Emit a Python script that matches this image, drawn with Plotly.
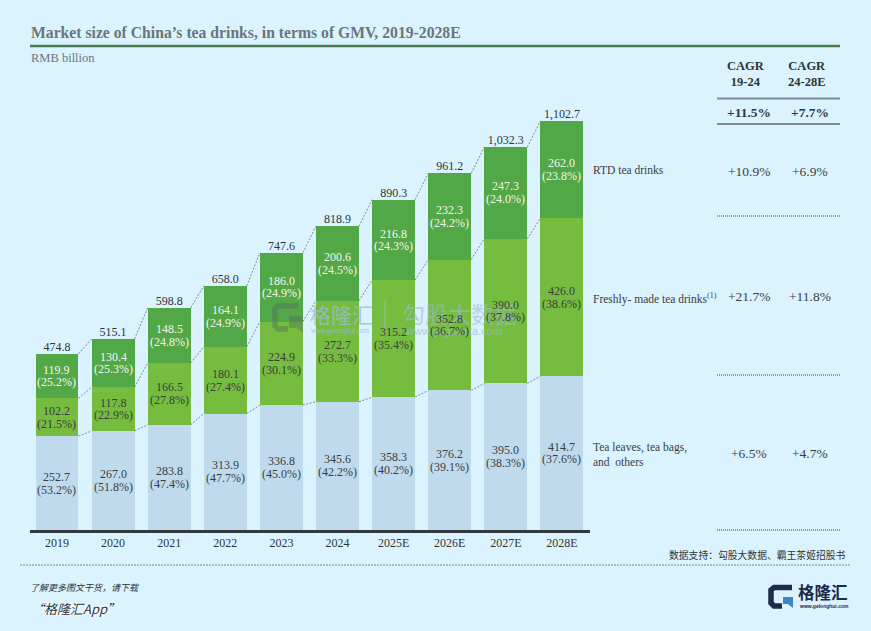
import plotly.graph_objects as go

years = ['2019', '2020', '2021', '2022', '2023', '2024', '2025E', '2026E', '2027E', '2028E']
leaves = [252.7, 267.0, 283.8, 313.9, 336.8, 345.6, 358.3, 376.2, 395.0, 414.7]
leaves_pct = [53.2, 51.8, 47.4, 47.7, 45.0, 42.2, 40.2, 39.1, 38.3, 37.6]
fresh = [102.2, 117.8, 166.5, 180.1, 224.9, 272.7, 315.2, 352.8, 390.0, 426.0]
fresh_pct = [21.5, 22.9, 27.8, 27.4, 30.1, 33.3, 35.4, 36.7, 37.8, 38.6]
rtd = [119.9, 130.4, 148.5, 164.1, 186.0, 200.6, 216.8, 232.3, 247.3, 262.0]
rtd_pct = [25.2, 25.3, 24.8, 24.9, 24.9, 24.5, 24.3, 24.2, 24.0, 23.8]
totals = [474.8, 515.1, 598.8, 658.0, 747.6, 818.9, 890.3, 961.2, 1032.3, 1102.7]

cagr_total = ['+11.5%', '+7.7%']
cagr_rtd = ['+10.9%', '+6.9%']
cagr_fresh = ['+21.7%', '+11.8%']
cagr_leaves = ['+6.5%', '+4.7%']

W, H = 871, 631
BG = '#DBF3FF'
SERIF = 'Liberation Serif'
CJK = 'Noto Sans CJK SC'
DARK = '#3A3D40'
GRAY = '#6C757B'


def px(x):
    return x / W


def py(y):
    return 1 - y / H


xs = list(range(len(years)))
half = 0.383
level2 = [a + b for a, b in zip(leaves, fresh)]
level3 = [a + b for a, b in zip(level2, rtd)]

fig = go.Figure()
fig.add_trace(go.Bar(x=xs, y=leaves, marker_color='#C0DAED', marker_line_width=0))
fig.add_trace(go.Bar(x=xs, y=fresh, marker_color='#76BC3E', marker_line_width=0))
fig.add_trace(go.Bar(x=xs, y=rtd, marker_color='#52A747', marker_line_width=0))

# dashed connectors between the bars
for level in [leaves, level2, level3]:
    cx, cy = [], []
    for i in xs[:-1]:
        cx += [i + half, i + 1 - half, None]
        cy += [level[i], level[i + 1], None]
    fig.add_trace(go.Scatter(x=cx, y=cy, mode='lines', hoverinfo='skip',
                             line=dict(color='#7C8A8C', width=1, dash='2px,1.5px')))

fig.add_trace(go.Scatter(x=xs, y=level3, mode='text', text=[f'{t:,.1f}' for t in totals],
                         textposition='top center', cliponaxis=False,
                         textfont=dict(family=SERIF, size=12, color='#2F3336')))

# margins at zero so that paper coordinates are the whole picture
fig.update_layout(
    width=W, height=H, autosize=False, barmode='stack', bargap=0.234, showlegend=False,
    paper_bgcolor=BG, plot_bgcolor=BG,
    margin=dict(l=0, r=0, t=0, b=0),
    xaxis=dict(domain=[px(30), px(590)], range=[-0.481, 9.5], tickvals=xs, ticktext=years,
               showgrid=False, zeroline=False,
               showline=True, linecolor='#33383B', linewidth=2.5, ticks='',
               tickfont=dict(family=SERIF, size=12, color='#2F3336')),
    yaxis=dict(domain=[py(530), py(100)], range=[0, 1159], visible=False, showgrid=False, zeroline=False),
)


def note(x, y, text, size=12, color=DARK, anchor='left', family=SERIF, **kw):
    fig.add_annotation(x=px(x), y=py(y), xref='paper', yref='paper', text=text, showarrow=False,
                       xanchor=anchor, yanchor='middle', align=anchor, borderpad=0,
                       font=dict(family=family, size=size, color=color, **kw.pop('font', {})), **kw)


def hline(x0, x1, y, color, width, dash='solid'):
    fig.add_shape(type='line', xref='paper', yref='paper', x0=px(x0), x1=px(x1), y0=py(y), y1=py(y),
                  line=dict(color=color, width=width, dash=dash))


def path(points, **kw):
    d = 'M ' + ' L '.join(f'{px(a):.5f},{py(b):.5f}' for a, b in points)
    fig.add_shape(type='path', xref='paper', yref='paper', path=d, **kw)


# watermark
MARK = '#56735F'
path([(298, 306), (278, 306), (275, 309), (275, 326), (278, 329), (288, 329)],
     line=dict(color=MARK, width=5.5), opacity=0.45)
path([(289, 316), (303, 316), (303, 333), (297, 328), (289, 328)],
     fillcolor=MARK, line=dict(width=0), opacity=0.45)
note(309, 314, '格隆汇', size=21, color='#9DBBD6', family=CJK, opacity=0.8)
note(309, 331, 'www.gelonghui.com', size=6.5, color='#9DBBD6', family='Liberation Sans', opacity=0.8)
fig.add_shape(type='line', xref='paper', yref='paper', x0=px(385), x1=px(385), y0=py(299), y1=py(335),
              line=dict(color='#A9C0D0', width=1), opacity=0.7)
note(401, 313, '勾股大数据', size=23, color='#9DBBD6', family=CJK, opacity=0.6)
note(404, 331, 'www.gogudata.com', size=11, color='#9DBBD6', family='Liberation Sans', opacity=0.7)


# two-line labels inside the bars, tighter than a <br> would set them
def bar_labels(bottoms, vals, pcts, color):
    for i, b, v, p in zip(xs, bottoms, vals, pcts):
        for line, shift in [(f'{v:.1f}', 6.4), (f'({p:.1f}%)', -6.4)]:
            fig.add_annotation(x=i, y=b + v / 2, xref='x', yref='y', text=line, showarrow=False,
                               yshift=shift, borderpad=0,
                               font=dict(family=SERIF, size=12, color=color))


bar_labels([0] * len(xs), leaves, leaves_pct, DARK)
bar_labels(leaves, fresh, fresh_pct, DARK)
bar_labels(level2, rtd, rtd_pct, '#F2F7EE')

# header
note(30, 32, '<b>Market size of China’s tea drinks, in terms of GMV, 2019-2028E</b>', size=15.7, color=GRAY)
hline(30, 840, 46, '#4A7A52', 2.5)
note(30, 58, 'RMB billion', size=12.5, color=GRAY)

# CAGR table
COL1, COL2 = 746, 807
note(COL1, 74, '<b>CAGR<br>19-24</b>', size=12.5, color='#2F3336', anchor='center')
note(COL2, 74, '<b>CAGR<br>24-28E</b>', size=12.5, color='#2F3336', anchor='center')
hline(717, 840, 98.5, '#7F8C92', 2)
hline(717, 840, 124, '#7F8C92', 2)
note(COL1 + 3, 112, f'<b>{cagr_total[0]}</b>', size=13.5, color='#33383B', anchor='center')
note(COL2 + 3, 112, f'<b>{cagr_total[1]}</b>', size=13.5, color='#33383B', anchor='center')

for row_y, row in [(171, cagr_rtd), (296, cagr_fresh), (453, cagr_leaves)]:
    note(COL1 + 3, row_y, row[0], size=13.5, anchor='center')
    note(COL2 + 3, row_y, row[1], size=13.5, anchor='center')
for y in [216, 375, 530]:
    hline(717, 840, y, '#8A979C', 2, dash='1px,1px')

note(592, 170, 'RTD tea drinks', size=11.5)
note(592, 298, 'Freshly- made tea drinks<sup>(1)</sup>', size=11.5)
note(592, 454, 'Tea leaves, tea bags,<br>and  others', size=11.5)

# source and footer
note(847, 555, '数据支持：勾股大数据、霸王茶姬招股书', size=9.8, color='#2F3336', anchor='right', family=CJK)
hline(20, 850, 565, '#7B8487', 1, dash='2px,1px')
note(29, 587, '<i>了解更多图文干货，请下载</i>', size=9, color='#2F3336', family=CJK)
note(30, 608, '<i>“格隆汇App”</i>', size=13, color='#2F3336', family=CJK,
     font=dict(shadow='0 0 2px white, 0 0 3px white, 0 0 4px white'))

# logo bottom right
LOGO = '#1C2A4C'
path([(792, 587.5), (774, 587.5), (771, 590), (771, 603), (774, 606), (782, 606)],
     line=dict(color=LOGO, width=5.5))
path([(783, 597), (793, 597), (793, 608), (788, 604), (783, 604)],
     fillcolor='#3D85C6', line=dict(width=0))
note(797, 592, '<b>格隆汇</b>', size=16.5, color=LOGO, family=CJK)
note(798, 606, '<b>www.gelonghui.com</b>', size=5, color=LOGO, family='Liberation Sans')

fig.write_html("out.html", config=dict(displayModeBar=False),
               post_script="document.body.style.margin='0';document.body.style.overflow='hidden';")
